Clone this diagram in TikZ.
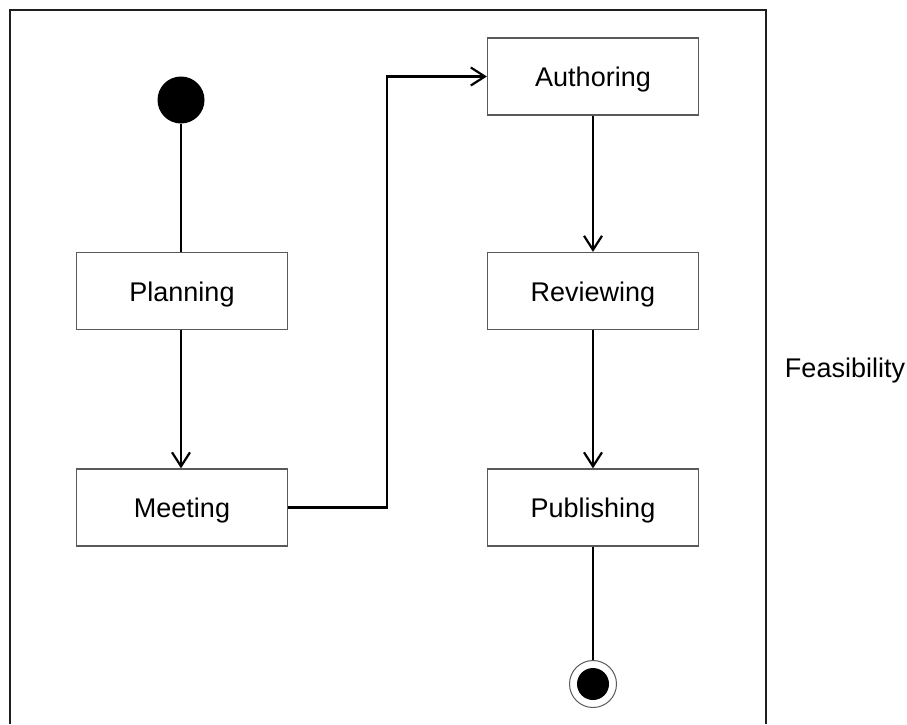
\documentclass[tikz,border=0pt]{standalone}
\usepackage{fontspec}
\setmainfont{Liberation Sans}
\usetikzlibrary{arrows.meta, positioning}
\definecolor{frame}{RGB}{30,30,30}
\definecolor{boxline}{RGB}{90,90,90}
\tikzstyle{activity}=[draw=boxline, line width=1.3pt, rectangle, minimum width=211pt, minimum height=77pt, inner sep=0pt, text height=20pt, text depth=0pt, font=\fontsize{27}{32}\selectfont]
\tikzstyle{initial}=[fill=black, circle, minimum size=47pt, inner sep=0pt]
\tikzstyle{final-ring}=[draw=boxline, line width=1pt, fill=white, circle, minimum size=47pt, inner sep=0pt]
\tikzstyle{final-dot}=[fill=black, circle, minimum size=32pt, inner sep=0pt]
\tikzstyle{flow}=[line width=2.2pt, draw=black]
\tikzstyle{flow-arrow}=[flow, -{Straight Barb[length=14pt, width=18pt, line width=2.2pt]}]

\begin{document}
\begin{tikzpicture}[x=1pt, y=-1pt]
\useasboundingbox (0,0) rectangle (907,724);

\draw [line width=1.3pt, draw=frame] (10,724) -- (10,10) -- (766,10) -- (766,724);
\node [font=\fontsize{27}{32}\selectfont, text height=20pt, text depth=0pt] (lane) at (845,367) {Feasibility};

\node[initial] (start) at (181,100) {};
\node[activity] (planning) at (182,291) {Planning};
\node[activity] (meeting) at (182,507.5) {Meeting};
\node[activity] (authoring) at (593,76.5) {Authoring};
\node[activity] (reviewing) at (593,291) {Reviewing};
\node[activity] (publishing) at (593,507.5) {Publishing};
\node[final-ring] (final) at (593,684) {};
\node[final-dot] (final-inner) at (final) {};

\draw [flow] (start) -- (start |- planning.north);
\draw [flow-arrow] (planning.south -| start) -- (meeting.north -| start);
\draw [flow-arrow] (meeting.east) -- ++(99,0) |- (authoring.west);
\draw [flow-arrow] (authoring) -- (reviewing);
\draw [flow-arrow] (reviewing) -- (publishing);
\draw [flow] (publishing) -- (final);
\end{tikzpicture}
\end{document}
